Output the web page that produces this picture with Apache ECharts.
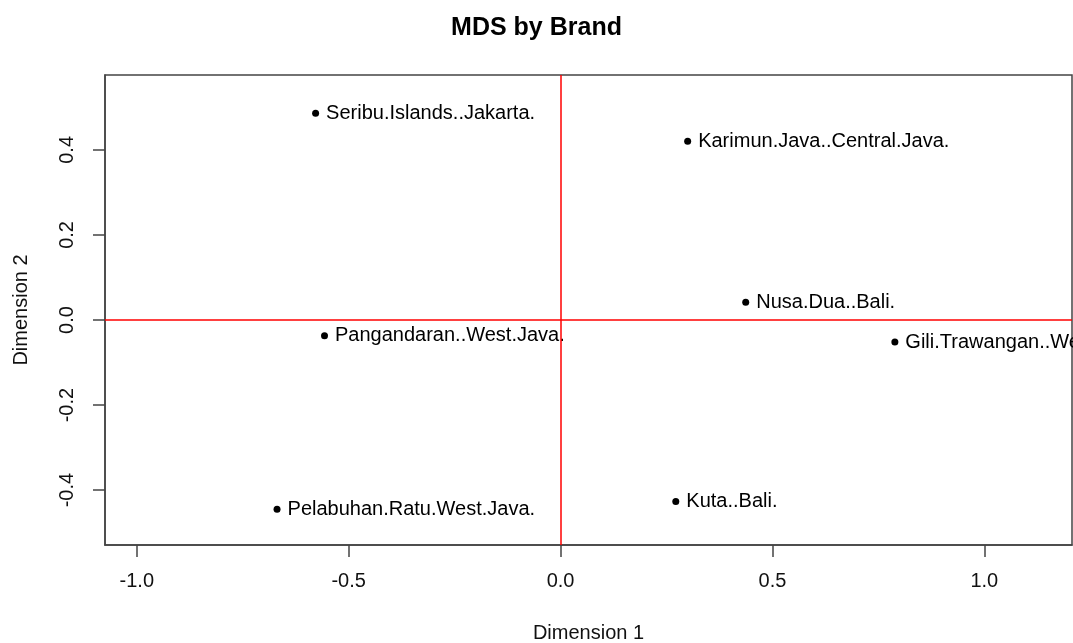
<!DOCTYPE html>
<html>
<head>
<meta charset="utf-8">
<script src="https://cdn.jsdelivr.net/npm/echarts@6/dist/echarts.min.js"></script>
<style>
  html, body { margin: 0; padding: 0; background: #fff; }
  #chart { width: 1073px; height: 643px; }
</style>
</head>
<body>
<div id="chart"></div>
<script>
// MDS coordinates
const names = [
  'Seribu.Islands..Jakarta.',
  'Karimun.Java..Central.Java.',
  'Nusa.Dua..Bali.',
  'Gili.Trawangan..West.Nusa.Tenggara.',
  'Pangandaran..West.Java.',
  'Pelabuhan.Ratu.West.Java.',
  'Kuta..Bali.'
]
const dim1 = [-0.578, 0.300, 0.437, 0.789, -0.557, -0.669, 0.272]
const dim2 = [0.486, 0.420, 0.042, -0.052, -0.037, -0.445, -0.427]

const xTicks = [-1.0, -0.5, 0.0, 0.5, 1.0]
const yTicks = [-0.4, -0.2, 0.0, 0.2, 0.4]

const font = 'Liberation Sans, Arial, sans-serif'
const axisColor = '#444'

const chart = echarts.init(document.getElementById('chart'))

chart.setOption({
  animation: false,
  title: {
    text: 'MDS by Brand',
    left: 'center',
    top: 11,
    textStyle: { fontFamily: font, fontSize: 25, fontWeight: 'bold', color: '#000' }
  },
  grid: {
    left: 105, right: 1, top: 75, bottom: 98,
    outerBoundsMode: 'none', // keep the plot box where it is, names may sit near the edge
    show: true, borderColor: axisColor, borderWidth: 1.5
  },
  xAxis: {
    type: 'value',
    min: -1.075, max: 1.207,
    name: 'Dimension 1',
    nameLocation: 'middle',
    nameGap: 78,
    nameTextStyle: { fontFamily: font, fontSize: 20, color: '#111' },
    axisLine: { show: true, onZero: false, lineStyle: { color: axisColor, width: 1.5 } },
    axisTick: { show: true, length: 12, customValues: xTicks, lineStyle: { color: axisColor, width: 1.5 } },
    axisLabel: {
      customValues: xTicks,
      margin: 26,
      fontFamily: font, fontSize: 20, color: '#111',
      formatter: v => v.toFixed(1)
    },
    splitLine: { show: false }
  },
  yAxis: {
    type: 'value',
    min: -0.529, max: 0.576,
    name: 'Dimension 2',
    nameLocation: 'middle',
    nameGap: 74,
    nameRotate: 90,
    nameTextStyle: { fontFamily: font, fontSize: 20, color: '#111' },
    axisLine: { show: true, onZero: false, lineStyle: { color: axisColor, width: 1.5 } },
    axisTick: { show: true, length: 12, customValues: yTicks, lineStyle: { color: axisColor, width: 1.5 } },
    axisLabel: {
      customValues: yTicks,
      rotate: 90,
      margin: 28,
      fontFamily: font, fontSize: 20, color: '#111',
      formatter: v => v.toFixed(1)
    },
    splitLine: { show: false }
  },
  series: [
    {
      type: 'scatter',
      symbol: 'circle',
      symbolSize: 7,
      itemStyle: { color: '#000', opacity: 1 },
      data: names.map((n, i) => ({ name: n, value: [dim1[i], dim2[i]] })),
      label: {
        show: true,
        position: 'right',
        distance: 7,
        formatter: p => p.name,
        fontFamily: font, fontSize: 20, color: '#000'
      },
      markLine: {
        silent: true,
        symbol: 'none',
        label: { show: false },
        lineStyle: { color: '#ff0000', width: 1.5, type: 'solid', opacity: 1 },
        data: [{ xAxis: 0 }, { yAxis: 0 }]
      }
    }
  ]
})
</script>
</body>
</html>
